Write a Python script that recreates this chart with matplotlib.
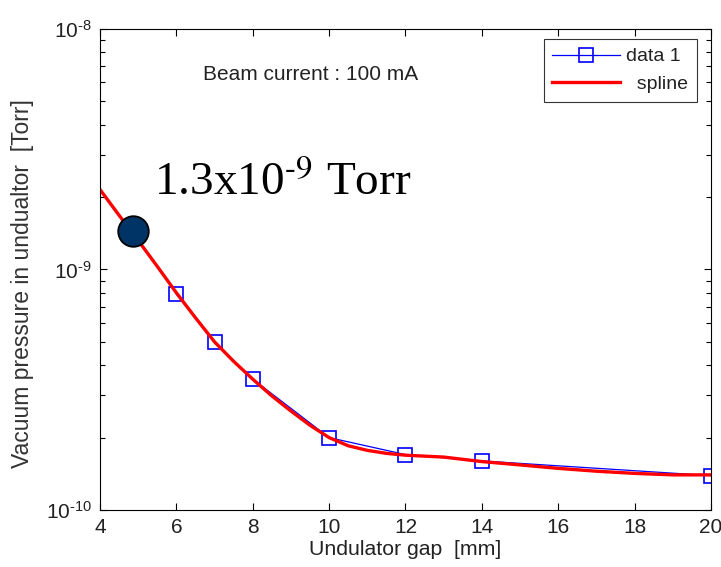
"""Vacuum pressure vs undulator gap, log scale, MATLAB-style look."""
import matplotlib
matplotlib.use("Agg")
import matplotlib.pyplot as plt
from matplotlib.ticker import FixedLocator, LogLocator, NullFormatter

plt.rcParams["font.family"] = ["Liberation Sans", "DejaVu Sans"]
plt.rcParams["mathtext.fontset"] = "custom"
plt.rcParams["mathtext.rm"] = "Liberation Sans"
plt.rcParams["mathtext.it"] = "Liberation Sans"

HY = "\u2010"   # plain hyphen, so mathtext does not swap in a long minus

# measured points (data 1)
gap = [6, 7, 8, 10, 12, 14, 20]
pressure = [7.9e-10, 5.0e-10, 3.5e-10, 2.0e-10, 1.70e-10, 1.60e-10, 1.39e-10]

# spline curve
spl_gap = [4, 4.5, 5, 5.5, 6, 6.5, 7, 7.5, 8, 8.5, 9, 9.5, 10, 10.5, 11, 11.5,
           12, 13, 14, 15, 16, 17, 18, 19, 20]
spl_p = [2.15e-9, 1.68e-9, 1.32e-9, 1.03e-9, 8.0e-10, 6.3e-10, 5.0e-10, 4.15e-10,
         3.5e-10, 2.98e-10, 2.58e-10, 2.25e-10, 2.0e-10, 1.85e-10, 1.77e-10, 1.72e-10,
         1.69e-10, 1.66e-10, 1.59e-10, 1.54e-10, 1.49e-10, 1.45e-10, 1.42e-10,
         1.40e-10, 1.40e-10]

# highlighted point
mark_gap, mark_p = 4.87, 1.44e-9

fig = plt.figure(figsize=(7.21, 5.67), dpi=100)
ax = fig.add_axes([0.1387, 0.1005, 0.8474, 0.8484])

ax.plot(gap, pressure, "s-", color="#0000ff", lw=0.9, ms=10, mfc="none",
        mec="#0000ff", mew=1.2, label="data 1")
ax.plot(spl_gap, spl_p, "-", color="#ff0000", lw=2.4, label="  spline")
ax.plot([mark_gap], [mark_p], "o", ms=22, color="#003366", mec="black", mew=1.3, zorder=5)

ax.set_yscale("log")
ax.set_xlim(4, 20)
ax.set_ylim(1e-10, 1e-8)
ax.xaxis.set_major_locator(FixedLocator(range(4, 21, 2)))
ax.yaxis.set_major_locator(FixedLocator([1e-10, 1e-9, 1e-8]))
ax.yaxis.set_major_formatter(plt.FuncFormatter(
    lambda v, p: {1e-10: f"$10^{{{HY}10}}$", 1e-9: f"$10^{{{HY}9}}$",
                  1e-8: f"$10^{{{HY}8}}$"}.get(v, "")))
ax.yaxis.set_minor_locator(LogLocator(base=10, subs=range(2, 10)))
ax.yaxis.set_minor_formatter(NullFormatter())
ax.tick_params(which="both", direction="in", top=True, right=True, labelsize=15,
               colors="black", labelcolor="#222222")
ax.tick_params(which="major", length=5, width=0.8, pad=6)
ax.tick_params(which="minor", length=3.5, width=0.8)
for s in ax.spines.values():
    s.set_linewidth(0.8)

ax.set_xlabel("Undulator gap  [mm]", fontsize=15.3, color="#222222", labelpad=2)
ax.set_ylabel("Vacuum pressure in undualtor  [Torr]", fontsize=16.5, color="#333333")
ax.yaxis.set_label_coords(-0.108, 0.47)

ax.text(0.344, 0.905, "Beam current : 100 mA", transform=ax.transAxes,
        fontsize=15, color="#222222", ha="center", va="center")
ax.text(0.088, 0.655, f"1.3x10$^{{{HY}9}}$ Torr", transform=ax.transAxes,
        fontsize=34, family="Liberation Serif", math_fontfamily="stix",
        ha="left", va="baseline")

leg = ax.legend(loc="upper right", bbox_to_anchor=(0.977, 0.979), fontsize=14,
                frameon=True, fancybox=False, edgecolor="black", handlelength=3.5,
                borderpad=0.45, labelspacing=0.5, handletextpad=0.3,
                borderaxespad=0)
leg.get_frame().set_linewidth(0.8)
for t in leg.get_texts():
    t.set_color("#222222")

fig.savefig("out.png", dpi=100)
